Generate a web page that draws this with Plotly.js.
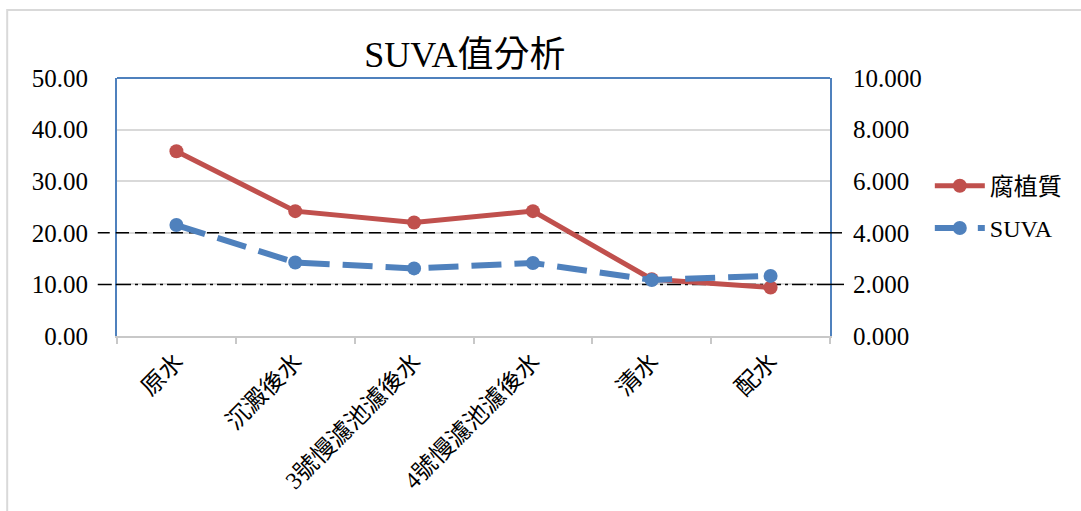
<!DOCTYPE html>
<html>
<head>
<meta charset="utf-8">
<script src="https://cdn.plot.ly/plotly-3.0.1.min.js"></script>
<style>
  body { margin: 0; background: #fff; }
  #chart { width: 1081px; height: 511px; }
</style>
</head>
<body>
<div id="chart"></div>
<script>
const categories = ['原水', '沉澱後水', '3號慢濾池濾後水', '4號慢濾池濾後水', '清水', '配水'];
const humic = [35.8, 24.2, 22.0, 24.2, 11.0, 9.4];
const suva = [4.30, 2.85, 2.62, 2.83, 2.17, 2.33];
const dashedLevel = 20;
const dashDotLevel = 10;

const serif = '"Liberation Serif", "Noto Sans CJK TC", serif';
const red = '#c0504d';
const blue = '#4f81bd';
const dashedStyle = { color: '#000', width: 1.5, dash: '12px,6px' };
const dashDotStyle = { color: '#000', width: 1.5, dash: '14px,4px,3px,4px' };

const data = [
  {
    x: categories, y: humic, name: '腐植質', yaxis: 'y',
    type: 'scatter', mode: 'lines+markers',
    line: { color: red, width: 5 },
    marker: { color: red, size: 14 },
    legendgroup: 'a'
  },
  {
    x: categories, y: suva, name: 'SUVA', yaxis: 'y2',
    type: 'scatter', mode: 'lines+markers',
    line: { color: blue, width: 6, dash: '30px,13px' },
    marker: { color: blue, size: 14 },
    legendgroup: 'b'
  }
];

// reference line: inside the plot (above grid, below traces) plus stubs outside it
function refLine(level, style) {
  return [
    { type: 'line', xref: 'x', yref: 'y', x0: -0.5, x1: categories.length - 0.5,
      y0: level, y1: level, line: style, layer: 'between' },
    { type: 'line', xref: 'paper', yref: 'y', x0: -0.027, x1: 0, y0: level, y1: level, line: style },
    { type: 'line', xref: 'paper', yref: 'y', x0: 1, x1: 1.024, y0: level, y1: level, line: style }
  ];
}

const layout = {
  width: 1081, height: 511,
  margin: { l: 117, r: 251, t: 78, b: 175 },
  paper_bgcolor: '#fff', plot_bgcolor: '#fff',
  font: { family: serif, color: '#000' },
  title: {
    text: 'SUVA值分析', font: { size: 36, family: serif },
    x: 0.43, xanchor: 'center', y: 0.893, yanchor: 'middle', yref: 'container'
  },
  xaxis: {
    type: 'category', tickangle: -45, range: [-0.5, categories.length - 0.5],
    tickfont: { size: 24, family: serif },
    showline: true, linecolor: '#c8c8c8', linewidth: 2,
    ticks: 'outside', tickson: 'boundaries', ticklen: 6, tickcolor: '#c8c8c8', tickwidth: 2,
    showgrid: false, zeroline: false
  },
  yaxis: {
    range: [0, 50], dtick: 10, tickformat: '.2f',
    tickfont: { size: 25 }, ticks: '', ticklabelstandoff: 22,
    showline: true, linecolor: blue, linewidth: 2,
    showgrid: true, gridcolor: '#d9d9d9', gridwidth: 2, zeroline: false
  },
  yaxis2: {
    overlaying: 'y', side: 'right',
    range: [0, 10], dtick: 2, tickformat: '.3f',
    tickfont: { size: 25 }, ticks: '', ticklabelstandoff: 16,
    showline: true, linecolor: blue, linewidth: 2,
    showgrid: false, zeroline: false
  },
  legend: {
    x: 1.14, y: 0.668, xanchor: 'left', yanchor: 'top',
    font: { size: 24, family: serif },
    traceorder: 'grouped', tracegroupgap: 8, itemwidth: 50,
    bgcolor: 'rgba(0,0,0,0)'
  },
  shapes: [
    { type: 'line', xref: 'paper', yref: 'paper', x0: 0, x1: 1, y0: 1, y1: 1,
      line: { color: blue, width: 2 } },
    ...refLine(dashedLevel, dashedStyle),
    ...refLine(dashDotLevel, dashDotStyle),
    { type: 'rect', xref: 'paper', yref: 'paper', x0: -0.154, x1: 1.6, y0: -1, y1: 1.264,
      line: { color: '#d9d9d9', width: 2 }, fillcolor: 'rgba(0,0,0,0)' }
  ]
};

Plotly.newPlot('chart', data, layout, { displayModeBar: false, staticPlot: true });
</script>
</body>
</html>
